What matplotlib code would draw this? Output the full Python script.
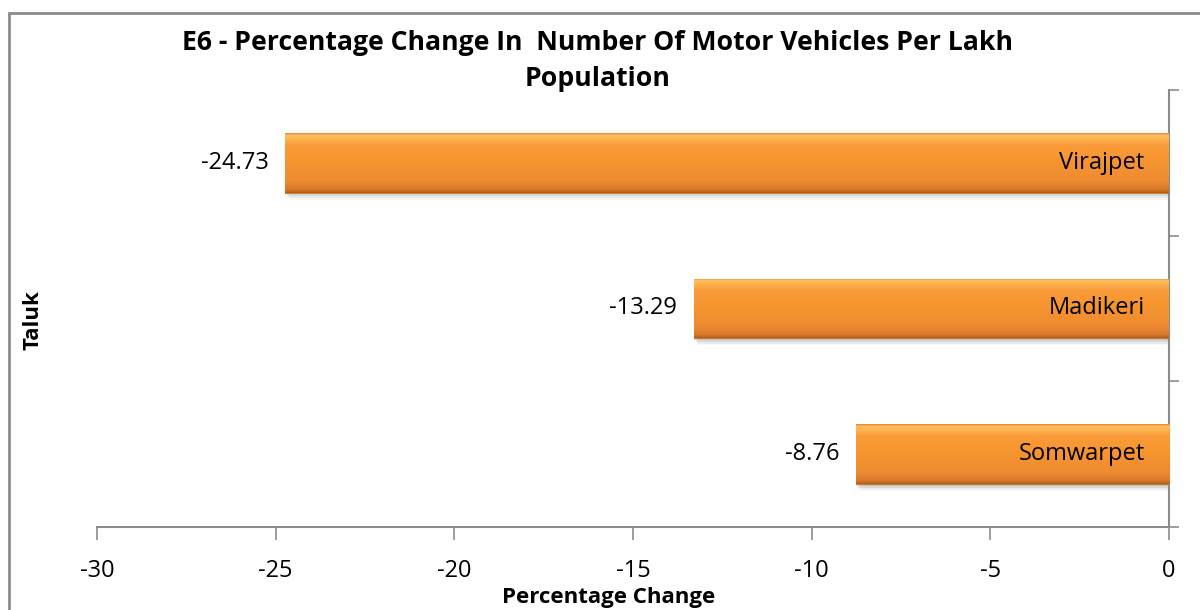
import matplotlib
matplotlib.use("Agg")
import matplotlib.pyplot as plt
import numpy as np
from matplotlib.patches import Rectangle
from matplotlib.colors import LinearSegmentedColormap

talukas = ["Somwarpet", "Madikeri", "Virajpet"]
values = [-8.76, -13.29, -24.73]
value_labels = ["-8.76", "-13.29", "-24.73"]
xticks = [-30, -25, -20, -15, -10, -5, 0]

plt.rcParams['font.family'] = ['Open Sans', 'DejaVu Sans']

fig = plt.figure(figsize=(12, 6.1), dpi=100)
ax = fig.add_axes([97/1200, 1-527/610, (1169-97)/1200, (527-90)/610])

# outer chart border
fig.patches.append(Rectangle((9/1200, -0.1), 1.2, 1-13/610+0.1, transform=fig.transFigure,
                             fill=False, edgecolor='#8c8c8c', linewidth=2, zorder=0))

bar_h = 0.41
cmap = LinearSegmentedColormap.from_list("org", [(0, '#B0601E'), (0.06, '#D9792A'), (0.2, '#EE8B31'),
                                                   (0.55, '#F7952F'), (0.8, '#FA9C3A'),
                                                   (0.9, '#FDB350'), (0.96, '#FCC061'), (1.0, '#E58A35')])
ypos = np.arange(len(talukas))
bars = ax.barh(ypos, values, height=bar_h, color='#F7922F', edgecolor='#C9701F', linewidth=0.6, zorder=3)
grad = np.linspace(0, 1, 256).reshape(-1, 1)
for i, b in enumerate(bars):
    x0, y0 = b.get_x(), b.get_y()
    w, h = b.get_width(), b.get_height()
    # soft shadow
    for k, a in enumerate([0.10, 0.07, 0.05, 0.03]):
        off = 0.012 + 0.012 * k
        ax.add_patch(Rectangle((x0 + 0.05 + 0.04 * k, y0 - off), w - 0.05, h, facecolor='#000000',
                               alpha=a, edgecolor='none', zorder=2))
    im = ax.imshow(grad, extent=[min(x0, x0 + w), max(x0, x0 + w), y0, y0 + h], origin='lower',
                   aspect='auto', cmap=cmap, zorder=3.5)
    im.set_clip_path(b)
    ax.text(values[i] - 0.47, ypos[i], value_labels[i], ha='right', va='center', fontsize=17,
            color='#000000', zorder=5)
    ax.text(-0.68, ypos[i], talukas[i], ha='right', va='center', fontsize=17, color='#000000', zorder=5)

ax.set_xlim(-30, 0)
ax.set_ylim(-0.5, 2.5)
ax.set_xticks(xticks)
ax.set_xticklabels([str(t) for t in xticks], fontsize=17)
ax.set_yticks([-0.5, 0.5, 1.5, 2.5])
ax.set_yticklabels([])
ax.yaxis.tick_right()
ax.tick_params(axis='x', direction='out', length=9, color='#8c8c8c', width=1.2, pad=14)
ax.tick_params(axis='y', direction='out', length=7, color='#8c8c8c', width=1.2)
for s in ['left', 'top']:
    ax.spines[s].set_visible(False)
for s in ['right', 'bottom']:
    ax.spines[s].set_color('#8c8c8c')
    ax.spines[s].set_linewidth(1.5)
ax.set_facecolor('none')

fig.text(598/1200, 1-43/610, "E6 - Percentage Change In  Number Of Motor Vehicles Per Lakh",
         ha='center', va='center', fontsize=19.2, fontweight='bold')
fig.text(598/1200, 1-79/610, "Population", ha='center', va='center', fontsize=19.2, fontweight='bold')
fig.text(609/1200, 1-598/610, "Percentage Change", ha='center', va='center', fontsize=16, fontweight='bold')
fig.text(33/1200, 1-320/610, "Taluk", ha='center', va='center', fontsize=16, fontweight='bold', rotation=90)

fig.savefig("out.png", dpi=100)
